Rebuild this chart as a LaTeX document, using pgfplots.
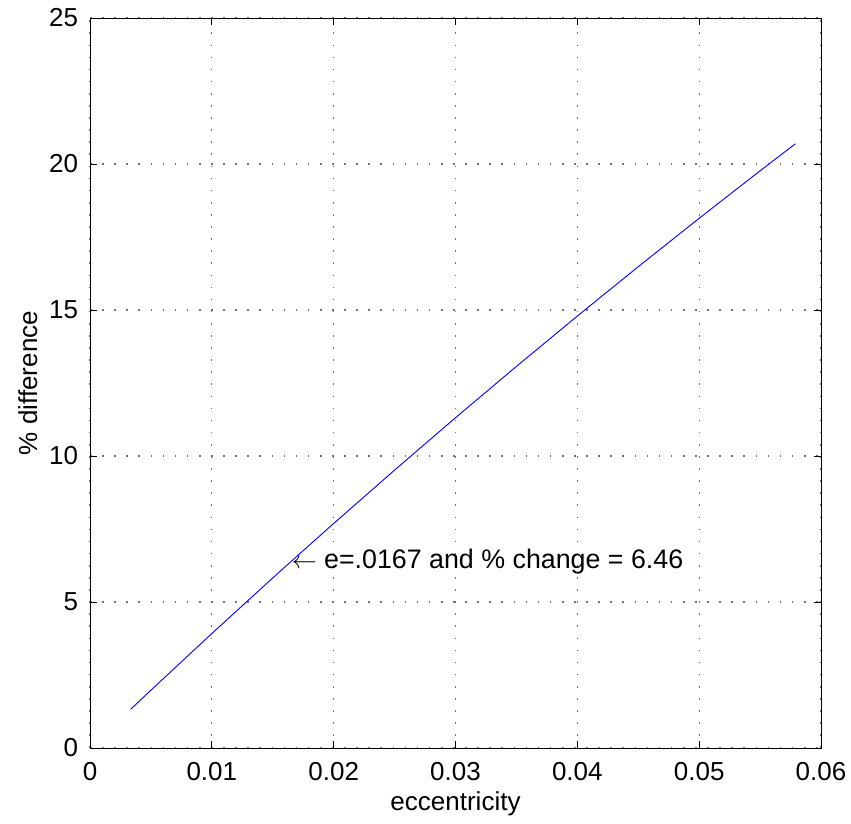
\documentclass[border=0pt]{standalone}
\usepackage{fontspec}
\setmainfont{Liberation Sans}
\usepackage{pgfplots}
\pgfplotsset{compat=1.18}
\begin{document}
\fontsize{26}{30}\selectfont
\begin{tikzpicture}
\useasboundingbox (-90pt,-75pt) rectangle (761pt,748pt);
\begin{axis}[
  at={(0pt,0pt)}, anchor=south west,
  scale only axis,
  width=731pt, height=730pt,
  xmin=0, xmax=0.06, ymin=0, ymax=25,
  scaled x ticks=false,
  xtick={0,0.01,0.02,0.03,0.04,0.05,0.06},
  xticklabels={0,0.01,0.02,0.03,0.04,0.05,0.06},
  ytick={0,5,10,15,20,25},
  tick align=inside,
  major tick length=7pt,
  tick style={black, line width=0.8pt},
  axis line style={black, line width=0.9pt},
  grid=major,
  grid style={black!55, line width=1.3pt, dash pattern=on 1.6pt off 10.5pt},
  /pgf/number format/assume math mode=true,
  ticklabel style={font=\fontsize{26}{30}\selectfont},
  label style={font=\fontsize{26}{30}\selectfont},
  xlabel={eccentricity},
  ylabel={\% difference},
  xlabel style={at={(axis description cs:0.5,-0.077)}, anchor=center},
  ylabel style={at={(axis description cs:-0.085,0.5)}, anchor=center},
  xticklabel style={yshift=-5pt},
  yticklabel style={xshift=-3pt},
]
\addplot[blue, line width=0.9pt] coordinates {
  (0.00334,1.327) (0.005,1.980) (0.010,3.921) (0.015,5.824)
  (0.0167,6.462) (0.020,7.689) (0.025,9.518) (0.030,11.311)
  (0.035,13.069) (0.040,14.793) (0.045,16.483) (0.050,18.141)
  (0.055,19.766) (0.0579,20.694)
};
\node[anchor=base west, inner sep=0pt, font=\fontsize{26.8}{30}\selectfont]
  at (axis cs:0.01655,6.16)
  {$\leftarrow$ e=.0167 and \% change = 6.46};
\end{axis}
\end{tikzpicture}
\end{document}
